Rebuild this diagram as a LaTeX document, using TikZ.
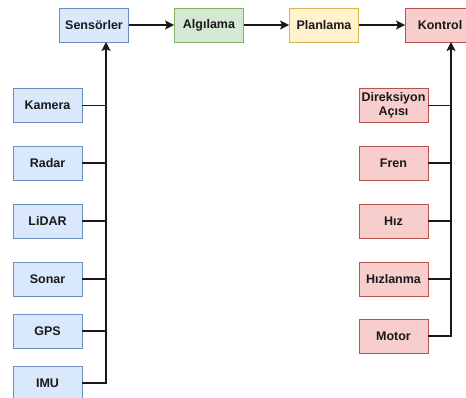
\documentclass[tikz,border=0pt]{standalone}
\usepackage{fontspec}
\setmainfont{Liberation Sans}
\usetikzlibrary{arrows.meta}
\definecolor{bfill}{HTML}{DAE8FC}\definecolor{bdraw}{HTML}{6C8EBF}
\definecolor{gfill}{HTML}{D5E8D4}\definecolor{gdraw}{HTML}{82B366}
\definecolor{yfill}{HTML}{FFF2CC}\definecolor{ydraw}{HTML}{D6B656}
\definecolor{rfill}{HTML}{F8CECC}\definecolor{rdraw}{HTML}{B85450}
\tikzset{
  box/.style={draw, line width=0.9pt, minimum width=69pt, minimum height=34pt, inner sep=1pt,
    font=\fontsize{12.5pt}{14pt}\selectfont\bfseries, align=center, text=black!90},
  bluebox/.style={box, fill=bfill, draw=bdraw},
  greenbox/.style={box, fill=gfill, draw=gdraw},
  yellowbox/.style={box, fill=yfill, draw=ydraw},
  redbox/.style={box, fill=rfill, draw=rdraw},
  conn/.style={line width=1.9pt, draw=black!90},
  arr/.style={conn, -{Stealth[length=9pt,width=9pt,inset=2pt]}}
}
\begin{document}
\begin{tikzpicture}[x=1pt,y=-1pt]
\path[use as bounding box, clip] (0,0) rectangle (466,398);
\node[bluebox] (sens) at (94,25) {Sensörler};
\node[greenbox] (alg) at (209,25) {Algılama};
\node[yellowbox] (plan) at (324,25) {Planlama};
\node[redbox] (kont) at (440,25) {Kontrol};

\node[bluebox] (kamera) at (47.5,105.5) {Kamera};
\node[bluebox] (radar) at (47.5,163) {Radar};
\node[bluebox] (lidar) at (47.5,221) {LiDAR};
\node[bluebox] (sonar) at (47.5,279) {Sonar};
\node[bluebox] (gps) at (47.5,331) {GPS};
\node[bluebox] (imu) at (47.5,383) {IMU};

\node[redbox] (dir) at (393.5,105.5) {Direksiyon\\Açısı};
\node[redbox] (fren) at (393.5,163) {Fren};
\node[redbox] (hiz) at (393.5,221) {Hız};
\node[redbox] (hizl) at (393.5,279) {Hızlanma};
\node[redbox] (motor) at (393.5,336) {Motor};

\coordinate (ltrunk) at (106,42);
\coordinate (rtrunk) at (451,42);

\draw[arr] (sens) -- (alg);
\draw[arr] (alg) -- (plan);
\draw[arr] (plan) -- (kont);

\draw[arr] (imu.east) -| (ltrunk);
\foreach \n in {kamera,radar,lidar,sonar,gps}
  \draw[conn] (\n.east) -- (\n.east -| ltrunk);

\draw[arr] (motor.east) -| (rtrunk);
\foreach \n in {dir,fren,hiz,hizl}
  \draw[conn] (\n.east) -- (\n.east -| rtrunk);
\end{tikzpicture}
\end{document}
